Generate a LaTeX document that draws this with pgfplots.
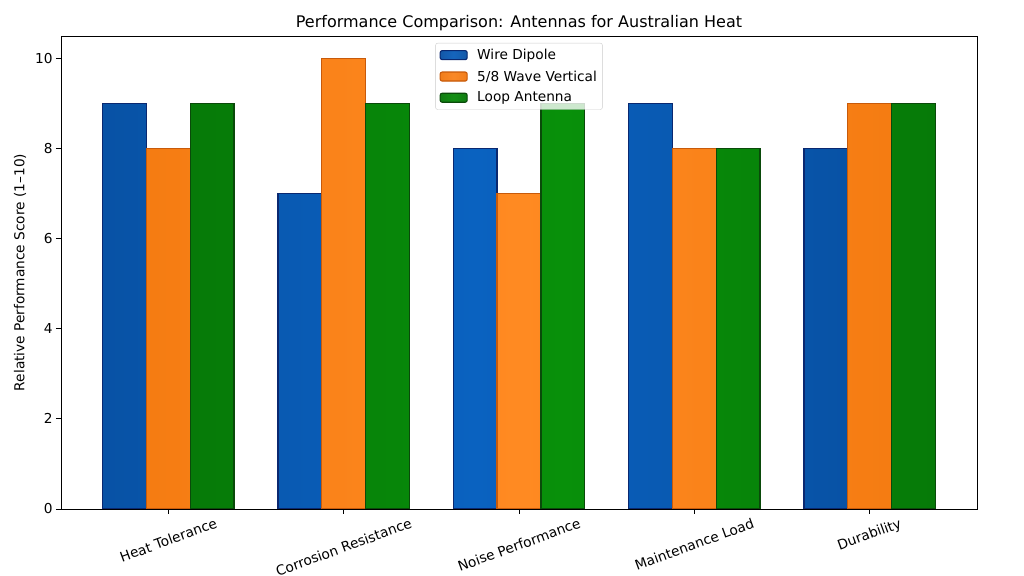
\documentclass[border=0pt]{standalone}
\usepackage{fontspec}
\setmainfont{DejaVu Sans}
\usepackage{graphicx}
\usepackage{pgfplots}
\pgfplotsset{compat=1.18}
\definecolor{bL}{HTML}{0A62C0}
\definecolor{bD}{HTML}{0852A5}
\definecolor{bE}{HTML}{0A2870}
\definecolor{oL}{HTML}{FF8A22}
\definecolor{oD}{HTML}{F57C12}
\definecolor{oE}{HTML}{C85A0A}
\definecolor{gL}{HTML}{08900A}
\definecolor{gD}{HTML}{067A08}
\definecolor{gE}{HTML}{0A4A0A}
\definecolor{bLeg}{HTML}{1450A0}
\definecolor{oLeg}{HTML}{E0680F}
\definecolor{gLeg}{HTML}{107010}
\begin{document}
\begin{tikzpicture}
\path[use as bounding box] (0,0) rectangle (1024bp,576bp);
\begin{axis}[
  at={(61bp,67bp)}, anchor=south west,
  scale only axis, width=916bp, height=473bp,
  xmin=-0.6125, xmax=4.6125, ymin=0, ymax=10.5,
  ybar, bar width=0.25,
  xtick={0,1,2,3,4},
  xticklabels={\rotatebox{20}{Heat Tolerance},\rotatebox{20}{Corrosion Resistance},\rotatebox{20}{Noise Performance},\rotatebox{20}{Maintenance Load},\rotatebox{20}{Durability}},
  xticklabel style={anchor=north, font=\fontsize{13.7bp}{16bp}\selectfont, inner sep=3.5bp},
  ytick={0,2,4,6,8,10},
  yticklabel style={font=\fontsize{13.7bp}{16bp}\selectfont},
  /pgf/number format/assume math mode=true,
  tick align=outside, major tick length=5bp,
  xtick pos=bottom, ytick pos=left,
  axis line style={line width=0.9bp},
  tick style={line width=0.9bp, black},
  title={Performance Comparison: Antennas for Australian Heat},
  title style={at={(axis description cs:0.5,1)}, anchor=base, yshift=3bp, font=\fontsize{16bp}{19bp}\selectfont},
  ylabel={Relative Performance Score (1–10)},
  ylabel style={at={(axis description cs:-0.0448,0.5)}, rotate=0, anchor=center, font=\fontsize{13.7bp}{16bp}\selectfont},
  legend style={at={(axis description cs:0.5,1)}, anchor=north, yshift=-7bp,
    draw=black!20, rounded corners=2bp, fill=white, fill opacity=0.8, text opacity=1,
    font=\fontsize{13.7bp}{16bp}\selectfont, row sep=6.5bp, inner xsep=4bp, inner ysep=4.5bp,
    nodes={inner sep=1.5bp, anchor=west},
    /tikz/every odd column/.append style={column sep=8bp}},
  legend cell align=left,
]
\addplot[bar shift=-0.25, draw=bE, line width=1.3bp, left color=bD, right color=bD, middle color=bL,
  legend image code/.code={\draw[fill=bLeg, draw=bE, line width=1.1bp] (0bp,-4.5bp) rectangle (27bp,4.5bp);}]
  coordinates {(0,9) (1,7) (2,8) (3,9) (4,8)};
\addlegendentry{Wire Dipole}
\addplot[bar shift=0, draw=oE, line width=1.3bp, left color=oD, right color=oD, middle color=oL,
  legend image code/.code={\draw[fill=oLeg, draw=oE, line width=1.1bp] (0bp,-4.5bp) rectangle (27bp,4.5bp);}]
  coordinates {(0,8) (1,10) (2,7) (3,8) (4,9)};
\addlegendentry{5/8 Wave Vertical}
\addplot[bar shift=0.25, draw=gE, line width=1.3bp, left color=gD, right color=gD, middle color=gL,
  legend image code/.code={\draw[fill=gLeg, draw=gE, line width=1.1bp] (0bp,-4.5bp) rectangle (27bp,4.5bp);}]
  coordinates {(0,9) (1,9) (2,9) (3,8) (4,9)};
\addlegendentry{Loop Antenna}
\end{axis}
\end{tikzpicture}
\end{document}
